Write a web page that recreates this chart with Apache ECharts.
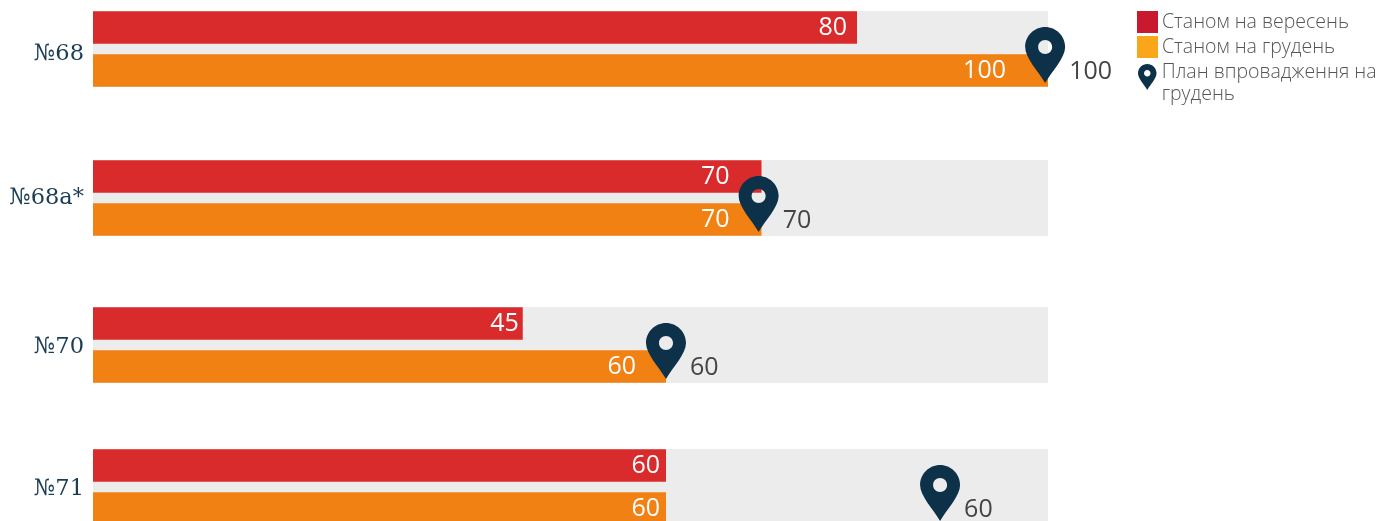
<!DOCTYPE html>
<html><head><meta charset="utf-8">
<style>html,body{margin:0;padding:0;background:#fff;overflow:hidden}#c{width:1382px;height:521px}</style>
<script src="https://cdn.jsdelivr.net/npm/echarts@6/dist/echarts.min.js"></script>
</head><body><div id="c"></div>
<script>
const rows = ['№68', '№68а*', '№70', '№71'];
const september = [80, 70, 45, 60];
const december = [100, 70, 60, 60];
const planLabels = [100, 70, 60, 60];
const planMarkerAt = [99.7, 69.7, 60, 88.7];
const names = ['Станом на вересень', 'Станом на грудень', 'План впровадження на\nгрудень'];

// layout only
const gridTops = [11, 160, 307, 449];
const septemberLabelInset = [10, 32, 4, 6];
const decemberLabelInset = [42, 32, 30, 6];
const rowLabelShift = [5, 0, 2, 2];

const PIN_SHAPE = 'M20 0C31 0 40 9 40 20C40 31 27 44 20 56C13 44 0 31 0 20C0 9 9 0 20 0ZM20 13C16 13 13 16 13 20C13 24 16 27 20 27C24 27 27 24 27 20C27 16 24 13 20 13Z';
const PIN = 'path://' + PIN_SHAPE;
const PIN_LEGEND = 'path://' + PIN_SHAPE + 'M0 82L0 82Z';
const FONT = '"Open Sans", sans-serif';
const NAVY = '#0c3149';

const grids = [], xAxes = [], yAxes = [], series = [];
rows.forEach((r, i) => {
  grids.push({ left: 93, width: 955, top: gridTops[i], height: 76, show: true, backgroundColor: '#ececec', borderWidth: 0, outerBoundsMode: 'none', containLabel: false });
  xAxes.push({ gridIndex: i, type: 'value', min: 0, max: 100, show: false });
  yAxes.push({ gridIndex: i, type: 'category', inverse: true, data: [r],
    axisLine: { show: false }, axisTick: { show: false }, splitLine: { show: false },
    axisLabel: { margin: 9, formatter: v => '{a|' + v + '}',
      rich: { a: { fontFamily: '"DejaVu Serif", serif', fontSize: 22.5, color: '#1b3d54', padding: [rowLabelShift[i] * 2, 0, 0, 0] } } } });
  const barLabel = inset => ({ show: true, position: 'insideRight', distance: inset, color: '#fff', fontFamily: FONT, fontSize: 25 });
  series.push({ name: names[0], type: 'bar', xAxisIndex: i, yAxisIndex: i, data: [september[i]],
    barWidth: 32.5, barGap: '33%', itemStyle: { color: '#d92b2b' }, label: barLabel(septemberLabelInset[i]), animation: false });
  series.push({ name: names[1], type: 'bar', xAxisIndex: i, yAxisIndex: i, data: [december[i]],
    barWidth: 32.5, barGap: '33%', itemStyle: { color: '#f18113' }, label: barLabel(decemberLabelInset[i]), animation: false });
  series.push({ name: names[2], type: 'scatter', xAxisIndex: i, yAxisIndex: i, clip: false, z: 5,
    data: [[planMarkerAt[i], r]], symbol: PIN, symbolSize: [40, 56], symbolOffset: [0, 6], symbolKeepAspect: false,
    itemStyle: { color: NAVY, opacity: 1 },
    label: { show: true, position: 'right', distance: 4, offset: [0, 17], formatter: () => String(planLabels[i]),
      color: '#444', fontFamily: FONT, fontSize: 25 }, animation: false });
});

const legendText = { fontFamily: FONT, fontWeight: 300, fontSize: 19.5, color: '#555', lineHeight: 22 };
const option = {
  animation: false, backgroundColor: '#fff',
  grid: grids, xAxis: xAxes, yAxis: yAxes, series,
  legend: [
    { orient: 'vertical', left: 1137, top: 10, padding: 0, itemWidth: 21, itemHeight: 22, itemGap: 1, itemStyle: { borderWidth: 0 },
      textStyle: Object.assign({}, legendText, { padding: [0, 0, 2, -1] }),
      data: [
        { name: names[0], icon: 'rect', itemStyle: { color: '#c8192e' } },
        { name: names[1], icon: 'rect', itemStyle: { color: '#faa61a' } }
      ], selectedMode: false },
    { orient: 'vertical', left: 1138, top: 61, padding: 0, itemWidth: 19, itemHeight: 38, itemStyle: { borderWidth: 0 },
      textStyle: legendText,
      data: [{ name: names[2], icon: PIN_LEGEND, itemStyle: { color: NAVY } }], selectedMode: false }
  ]
};
const chart = echarts.init(document.getElementById('c'), null, { renderer: 'canvas' });
chart.setOption(option);
</script></body></html>
